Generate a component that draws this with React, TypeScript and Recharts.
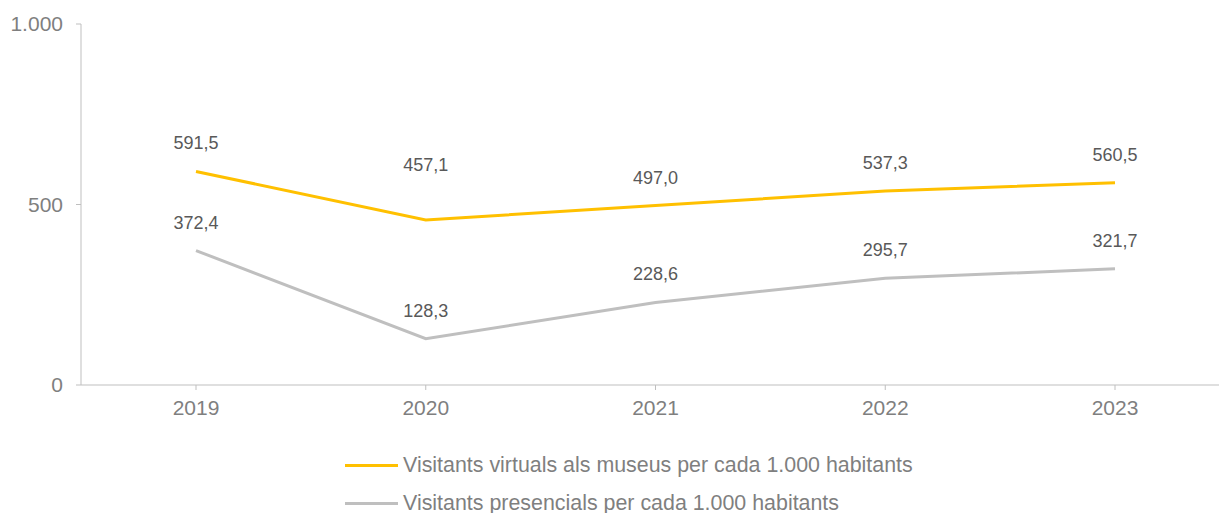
import { LineChart, Line, XAxis, YAxis, Legend, LabelList } from "recharts";

const years = ["2019", "2020", "2021", "2022", "2023"];
const virtualVisitors = [591.5, 457.1, 497.0, 537.3, 560.5];
const presentialVisitors = [372.4, 128.3, 228.6, 295.7, 321.7];
const yTicks = [0, 500, 1000];

const VIRTUAL_NAME = "Visitants virtuals als museus per cada 1.000 habitants";
const PRESENTIAL_NAME = "Visitants presencials per cada 1.000 habitants";
const YELLOW = "#FFC000";
const GRAY = "#BFBFBF";

const chartData = years.map((year, i) => ({
  year,
  virtual: virtualVisitors[i],
  presential: presentialVisitors[i],
}));

const fmt = (v: number) => v.toFixed(1).replace(".", ",");
const fmtTick = (v: number) => (v >= 1000 ? "1.000" : String(v));

// the 2020 virtual label sits higher in the original
const makeLabel = (raised: number[]) => (props: any) => {
  const { x, y, value, index } = props;
  const off = raised.includes(index) ? 55 : 28;
  return (
    <text x={x} y={y - off} textAnchor="middle" dominantBaseline="central" fontSize={18} fill="#595959">
      {fmt(value)}
    </text>
  );
};

function LegendBox() {
  const rows = [
    { name: VIRTUAL_NAME, color: YELLOW },
    { name: PRESENTIAL_NAME, color: GRAY },
  ];
  return (
    <div style={{ height: 83, paddingTop: 16, paddingLeft: 345, boxSizing: "border-box", textAlign: "left" }}>
      {rows.map(r => (
        <div key={r.name} style={{ height: 38, display: "flex", alignItems: "center" }}>
          <span style={{ width: 53, height: 3, background: r.color, marginRight: 5, display: "inline-block" }} />
          <span style={{ fontSize: 21.4, color: "#7F7F7F", whiteSpace: "nowrap" }}>{r.name}</span>
        </div>
      ))}
    </div>
  );
}

export default function App() {
  return (
    <div style={{ position: "absolute", left: 0, top: 0, fontFamily: "'Liberation Sans', Arial, sans-serif" }}>
      <LineChart width={1219} height={513} data={chartData} margin={{ top: 24, right: 0, left: 0, bottom: 0 }}>
        <XAxis
          dataKey="year"
          stroke="#BFBFBF"
          tick={{ fill: "#7F7F7F", fontSize: 21 }}
          tickSize={5}
          tickMargin={10}
          height={45}
          padding={{ left: 115, right: 104 }}
        />
        <YAxis
          domain={[0, 1000]}
          ticks={yTicks}
          tickFormatter={fmtTick}
          stroke="#BFBFBF"
          tick={{ fill: "#7F7F7F", fontSize: 21 }}
          tickSize={5}
          tickMargin={13}
          width={81}
        />
        <Legend verticalAlign="bottom" wrapperStyle={{ left: 0, width: 1219 }} content={() => <LegendBox />} />
        <Line
          dataKey="virtual"
          name={VIRTUAL_NAME}
          stroke={YELLOW}
          strokeWidth={3}
          dot={false}
          isAnimationActive={false}
        >
          <LabelList dataKey="virtual" content={makeLabel([1])} />
        </Line>
        <Line
          dataKey="presential"
          name={PRESENTIAL_NAME}
          stroke={GRAY}
          strokeWidth={3}
          dot={false}
          isAnimationActive={false}
        >
          <LabelList dataKey="presential" content={makeLabel([])} />
        </Line>
      </LineChart>
    </div>
  );
}
